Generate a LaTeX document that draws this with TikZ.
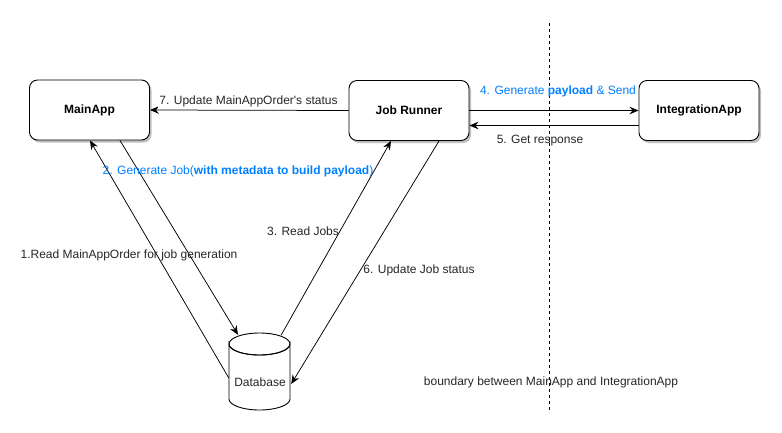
\documentclass[tikz,border=0pt]{standalone}
\usepackage{fontspec}
\setmainfont{Liberation Sans}
\usetikzlibrary{arrows.meta,shadows,calc}
\definecolor{lblblue}{RGB}{0,127,255}
\tikzset{
  box/.style={draw, line width=0.9pt, rounded corners=8pt, minimum width=120pt, minimum height=60pt, fill=white,
    drop shadow={shadow xshift=2pt, shadow yshift=-2.5pt, opacity=0.25, fill=black}, font=\bfseries\fontsize{12}{14}\selectfont},
  conn/.style={line width=0.75pt, -{Stealth[length=9pt,width=7.5pt,inset=3pt]}},
  lbl/.style={font=\fontsize{12}{14}\selectfont, inner sep=1pt, text=black!85},
  blbl/.style={lbl, text=lblblue},
}
\begin{document}
\begin{tikzpicture}[x=1pt,y=-1pt]
\useasboundingbox (0,0) rectangle (782,432);
% boundary line
\coordinate (btop) at (549,23);
\coordinate (bbot) at (549,410);
\draw[line width=0.8pt, dash pattern=on 3pt off 3pt] (btop) -- (bbot);
% boxes
\node[box] (main) at (89.5,110) {MainApp};
\node[box] (jr) at (409,110.5) {Job Runner};
\node[box] (ia) at (699,110.5) {IntegrationApp};
% database
\node[minimum width=61pt, minimum height=77pt, inner sep=0pt, font=\fontsize{12}{14}\selectfont] (db) at (259.5,371.5) {};
\draw[line width=0.9pt, fill=white] (229,344) arc[start angle=180, end angle=360, x radius=30.5, y radius=-11] -- (290,399)
  arc[start angle=0, end angle=-180, x radius=30.5, y radius=-11] -- cycle;
\draw[line width=0.9pt] (259.5,344) ellipse[x radius=30.5, y radius=11];
\node[lbl] at (260,382) {Database};
% connectors
\draw[conn] (jr.west) -- (main.east);
\draw[conn] (jr.east) -- (ia.west);
\draw[conn] ($(ia.west)+(0,15)$) -- ($(jr.east)+(0,15)$);
\draw[conn] ($(db.west)+(0,6.5)$) -- ($(main.south)+(0.5,0)$);
\draw[conn] ($(main.south)+(30.5,0)$) -- ($(db.north)+(-21.5,2)$);
\draw[conn] ($(db.north)+(21.5,2.5)$) -- ($(jr.south)+(-18,0)$);
\draw[conn] ($(jr.south)+(30,0)$) -- ($(db.east)+(1,12.5)$);
% labels
\node[lbl, fill=white] at (248.5,101) {7. Update MainAppOrder\textquotesingle s status};
\node[blbl] at (558,91) {4. Generate \textbf{payload} \& Send};
\node[lbl] at (540,141) {5. Get response};
\node[blbl] at (238,171) {2. Generate Job(\textbf{with metadata to build payload})};
\node[lbl] at (129,255) {1.Read MainAppOrder for job generation};
\node[lbl] at (303,231) {3. Read Jobs};
\node[lbl] at (419,270) {6. Update Job status};
\node[lbl] at (551,382) {boundary between MainApp and IntegrationApp};
\end{tikzpicture}
\end{document}
